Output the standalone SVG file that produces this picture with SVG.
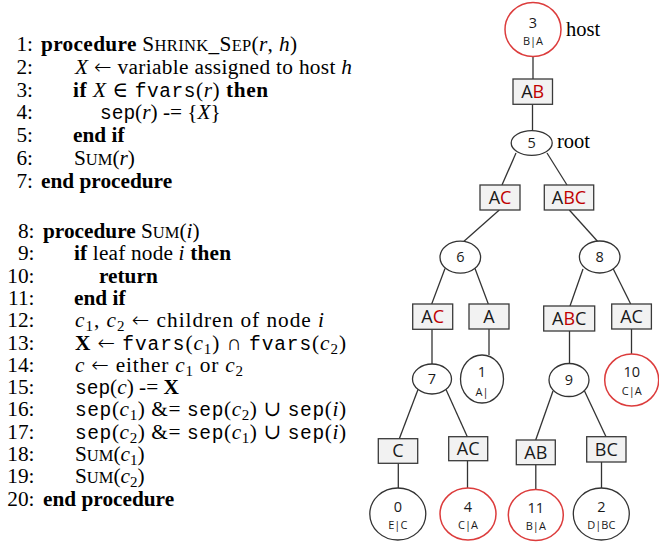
<svg xmlns="http://www.w3.org/2000/svg" width="659" height="542" viewBox="0 0 659 542">
<style>
.t{font-family:"Liberation Serif","DejaVu Serif",serif;font-size:21.3px;fill:#000}
.n{text-anchor:end}
.b{font-weight:bold}
.i{font-style:italic}
.m{font-family:"Liberation Mono","DejaVu Sans Mono",monospace;font-size:19.5px}
.sc{font-size:16.5px}
.s{font-size:15px}
.ar{font-family:"DejaVu Sans",sans-serif;font-size:21px;font-weight:200}
.edge{stroke:#333;stroke-width:1.3;fill:none}
.box{fill:#f2f2f2;stroke:#3a3a3a;stroke-width:1.3}
.nd{fill:#fff;stroke:#333;stroke-width:1.3}
.red{stroke:#dc3c3c;stroke-width:1.5}
.lbl{font-family:"Open Sans","Liberation Sans",sans-serif;font-size:18px;text-anchor:middle;fill:#1a1a1a}
.rc{fill:#c00000}
.nn{font-family:"Open Sans","Liberation Sans",sans-serif;font-size:14.5px;text-anchor:middle;fill:#1a1a1a}
.ns{font-family:"Open Sans","Liberation Sans",sans-serif;font-size:11px;text-anchor:middle;fill:#1a1a1a}
.side{font-family:"Liberation Serif","DejaVu Serif",serif;font-size:20.5px;fill:#000}
</style>

<g id="algorithm" class="t">
<text class="n" x="33" y="51">1:</text>
<text x="41" y="51" textLength="256" lengthAdjust="spacing"><tspan class="b">procedure</tspan> S<tspan class="sc">HRINK</tspan>_S<tspan class="sc">EP</tspan>(<tspan class="i">r</tspan>, <tspan class="i">h</tspan>)</text>
<text class="n" x="33" y="73.8">2:</text>
<text x="75" y="73.8" textLength="277" lengthAdjust="spacing"><tspan class="i">X</tspan> <tspan class="ar">←</tspan> variable assigned to host <tspan class="i">h</tspan></text>
<text class="n" x="33" y="96.6">3:</text>
<text x="73" y="96.6" textLength="195" lengthAdjust="spacing"><tspan class="b">if</tspan> <tspan class="i">X</tspan> ∈ <tspan class="m">fvars</tspan>(<tspan class="i">r</tspan>) <tspan class="b">then</tspan></text>
<text class="n" x="33" y="119.4">4:</text>
<text x="100" y="119.4"><tspan class="m">sep</tspan>(<tspan class="i">r</tspan>) -= {<tspan class="i">X</tspan>}</text>
<text class="n" x="33" y="142.2">5:</text>
<text x="73" y="142.2" class="b">end if</text>
<text class="n" x="33" y="165">6:</text>
<text x="74" y="165">S<tspan class="sc">UM</tspan>(<tspan class="i">r</tspan>)</text>
<text class="n" x="33" y="187.8">7:</text>
<text x="41" y="187.8" class="b">end procedure</text>

<text class="n" x="34.5" y="238">8:</text>
<text x="43" y="238"><tspan class="b">procedure</tspan> S<tspan class="sc">UM</tspan>(<tspan class="i">i</tspan>)</text>
<text class="n" x="34.5" y="260.3">9:</text>
<text x="74" y="260.3" textLength="157" lengthAdjust="spacing"><tspan class="b">if</tspan> leaf node <tspan class="i">i</tspan> <tspan class="b">then</tspan></text>
<text class="n" x="34.5" y="282.6">10:</text>
<text x="99" y="282.6" class="b">return</text>
<text class="n" x="34.5" y="304.9">11:</text>
<text x="74" y="304.9" class="b">end if</text>
<text class="n" x="34.5" y="327.2">12:</text>
<text x="75" y="327.2" textLength="249" lengthAdjust="spacing"><tspan class="i">c</tspan><tspan class="s" dy="4">1</tspan><tspan dy="-4">, </tspan><tspan class="i">c</tspan><tspan class="s" dy="4">2</tspan><tspan dy="-4"> </tspan><tspan class="ar">←</tspan> children of node <tspan class="i">i</tspan></text>
<text class="n" x="34.5" y="349.5">13:</text>
<text x="75" y="349.5" textLength="271" lengthAdjust="spacing"><tspan class="b">X</tspan> <tspan class="ar">←</tspan> <tspan class="m">fvars</tspan>(<tspan class="i">c</tspan><tspan class="s" dy="4">1</tspan><tspan dy="-4">) ∩ </tspan><tspan class="m">fvars</tspan>(<tspan class="i">c</tspan><tspan class="s" dy="4">2</tspan><tspan dy="-4">)</tspan></text>
<text class="n" x="34.5" y="371.8">14:</text>
<text x="75" y="371.8" textLength="168" lengthAdjust="spacing"><tspan class="i">c</tspan> <tspan class="ar">←</tspan> either <tspan class="i">c</tspan><tspan class="s" dy="4">1</tspan><tspan dy="-4"> or </tspan><tspan class="i">c</tspan><tspan class="s" dy="4">2</tspan></text>
<text class="n" x="34.5" y="394.1">15:</text>
<text x="75" y="394.1"><tspan class="m">sep</tspan>(<tspan class="i">c</tspan>) -= <tspan class="b">X</tspan></text>
<text class="n" x="34.5" y="416.4">16:</text>
<text x="75" y="416.4" textLength="271" lengthAdjust="spacing"><tspan class="m">sep</tspan>(<tspan class="i">c</tspan><tspan class="s" dy="4">1</tspan><tspan dy="-4">) &amp;= </tspan><tspan class="m">sep</tspan>(<tspan class="i">c</tspan><tspan class="s" dy="4">2</tspan><tspan dy="-4">) ∪ </tspan><tspan class="m">sep</tspan>(<tspan class="i">i</tspan>)</text>
<text class="n" x="34.5" y="438.7">17:</text>
<text x="75" y="438.7" textLength="271" lengthAdjust="spacing"><tspan class="m">sep</tspan>(<tspan class="i">c</tspan><tspan class="s" dy="4">2</tspan><tspan dy="-4">) &amp;= </tspan><tspan class="m">sep</tspan>(<tspan class="i">c</tspan><tspan class="s" dy="4">1</tspan><tspan dy="-4">) ∪ </tspan><tspan class="m">sep</tspan>(<tspan class="i">i</tspan>)</text>
<text class="n" x="34.5" y="461">18:</text>
<text x="75" y="461">S<tspan class="sc">UM</tspan>(<tspan class="i">c</tspan><tspan class="s" dy="4">1</tspan><tspan dy="-4">)</tspan></text>
<text class="n" x="34.5" y="483.3">19:</text>
<text x="75" y="483.3">S<tspan class="sc">UM</tspan>(<tspan class="i">c</tspan><tspan class="s" dy="4">2</tspan><tspan dy="-4">)</tspan></text>
<text class="n" x="34.5" y="505.6">20:</text>
<text x="43" y="505.6" class="b">end procedure</text>
</g>

<g id="connectors" class="edge">
<line x1="533" y1="56.5" x2="533" y2="79"/>
<line x1="532.5" y1="104.3" x2="532.5" y2="130.7"/>
<line x1="516" y1="153" x2="502" y2="185"/>
<line x1="547" y1="153" x2="567" y2="185"/>
<line x1="499.3" y1="210" x2="464" y2="241.3"/>
<line x1="569.3" y1="210" x2="597.5" y2="241.2"/>
<line x1="445" y1="268.5" x2="431.7" y2="304"/>
<line x1="475" y1="268.5" x2="488.3" y2="304"/>
<line x1="583" y1="269" x2="570" y2="306"/>
<line x1="613.3" y1="269" x2="630.7" y2="304"/>
<line x1="432" y1="329.3" x2="432" y2="364"/>
<line x1="489" y1="329" x2="489" y2="355"/>
<line x1="569.5" y1="331" x2="569.5" y2="363.5"/>
<line x1="631.5" y1="329" x2="631.5" y2="354"/>
<line x1="418" y1="389.5" x2="399.3" y2="438.7"/>
<line x1="446" y1="389.5" x2="467.3" y2="436.7"/>
<line x1="553" y1="391" x2="535.7" y2="440"/>
<line x1="584.5" y1="391" x2="606" y2="436.7"/>
<line x1="398.3" y1="463.3" x2="398.3" y2="488"/>
<line x1="467.5" y1="460.7" x2="467.5" y2="488"/>
<line x1="535.8" y1="464.7" x2="535.8" y2="489"/>
<line x1="601.5" y1="462" x2="601.5" y2="488"/>
</g>

<g id="node3"><ellipse class="nd red" cx="533" cy="29.5" rx="28" ry="27"/><text class="nn" x="533" y="28">3</text><text class="ns" x="533" y="45">B|A</text></g>
<text id="label-host" class="side" x="566" y="35.7">host</text>
<g id="sep-AB"><rect class="box" x="513" y="79" width="39.5" height="25.3"/><text class="lbl" x="532.7" y="98">A<tspan class="rc">B</tspan></text></g>
<g id="node5"><ellipse class="nd" cx="531.7" cy="143" rx="20.5" ry="12.3"/><text class="nn" x="531.7" y="148">5</text></g>
<text id="label-root" class="side" x="557" y="147.5">root</text>
<g id="sep-AC-1"><rect class="box" x="480" y="185" width="40" height="25"/><text class="lbl" x="500" y="203.8">A<tspan class="rc">C</tspan></text></g>
<g id="sep-ABC-1"><rect class="box" x="544.3" y="185" width="49.4" height="25"/><text class="lbl" x="569" y="203.8">A<tspan class="rc">BC</tspan></text></g>
<g id="node6"><ellipse class="nd" cx="460.3" cy="257.2" rx="20.3" ry="16"/><text class="nn" x="460.3" y="262.2">6</text></g>
<g id="node8"><ellipse class="nd" cx="599.7" cy="257" rx="20.3" ry="16"/><text class="nn" x="599.7" y="262">8</text></g>
<g id="sep-AC-2"><rect class="box" x="412.7" y="304" width="40" height="25.3"/><text class="lbl" x="432.7" y="322.8">A<tspan class="rc">C</tspan></text></g>
<g id="sep-A"><rect class="box" x="469" y="304" width="40" height="25"/><text class="lbl" x="489" y="322.8">A</text></g>
<g id="sep-ABC-2"><rect class="box" x="543.7" y="306" width="51" height="25"/><text class="lbl" x="569.2" y="324.8">A<tspan class="rc">B</tspan>C</text></g>
<g id="sep-AC-3"><rect class="box" x="611.7" y="304" width="39.7" height="25"/><text class="lbl" x="631.5" y="322.8">AC</text></g>
<g id="node7"><ellipse class="nd" cx="432" cy="379" rx="19.5" ry="15"/><text class="nn" x="432" y="384">7</text></g>
<g id="node1"><ellipse class="nd" cx="482" cy="379" rx="21.5" ry="24"/><text class="nn" x="482" y="377">1</text><text class="ns" x="482" y="396">A|</text></g>
<g id="node9"><ellipse class="nd" cx="569" cy="380" rx="20" ry="16.5"/><text class="nn" x="569" y="385">9</text></g>
<g id="node10"><ellipse class="nd red" cx="631.7" cy="380" rx="27" ry="26"/><text class="nn" x="631.7" y="377.3">10</text><text class="ns" x="631.7" y="394.5">C|A</text></g>
<g id="sep-C"><rect class="box" x="378.3" y="438.7" width="39.4" height="24.6"/><text class="lbl" x="398" y="457.3">C</text></g>
<g id="sep-AC-4"><rect class="box" x="448.7" y="436.7" width="39" height="24"/><text class="lbl" x="468.2" y="455">AC</text></g>
<g id="sep-AB-2"><rect class="box" x="516.3" y="440" width="39" height="24.7"/><text class="lbl" x="535.8" y="458.7">AB</text></g>
<g id="sep-BC"><rect class="box" x="586.7" y="436.7" width="39.3" height="25.3"/><text class="lbl" x="606.3" y="455.6">BC</text></g>
<g id="node0"><ellipse class="nd" cx="397.8" cy="514" rx="28" ry="26"/><text class="nn" x="397.8" y="511.7">0</text><text class="ns" x="397.8" y="528.5">E|C</text></g>
<g id="node4"><ellipse class="nd red" cx="468" cy="514" rx="28" ry="26"/><text class="nn" x="468" y="511.7">4</text><text class="ns" x="468" y="528.5">C|A</text></g>
<g id="node11"><ellipse class="nd red" cx="535.8" cy="515" rx="27.5" ry="25.5"/><text class="nn" x="535.8" y="512.7">11</text><text class="ns" x="535.8" y="529.5">B|A</text></g>
<g id="node2"><ellipse class="nd" cx="601.3" cy="514" rx="28" ry="26"/><text class="nn" x="601.3" y="511.7">2</text><text class="ns" x="601.3" y="528.5">D|BC</text></g>
</svg>
